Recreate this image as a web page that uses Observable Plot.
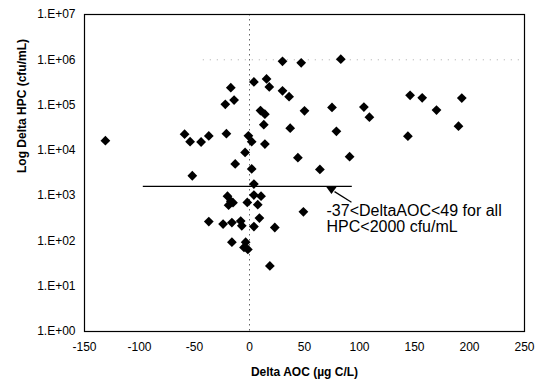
<!DOCTYPE html>
<html>
<head>
<meta charset="utf-8">
<script src="https://cdn.jsdelivr.net/npm/d3@7"></script>
<script src="https://cdn.jsdelivr.net/npm/@observablehq/plot@0.6"></script>
<style>
  html, body { margin: 0; padding: 0; background: #fff; }
  #chart { width: 541px; height: 381px; }
</style>
</head>
<body>
<div id="chart"></div>
<script>
// Data
const deltaAOC = [-131, -59, -54, -44, -37, -52, -22, -17, -14, -21, -13, -4, -1, 2, 2, 4, 15.5, 18, 10, 14,
  13, 14, 30, 47, 30, 36, 50, 37, 44, 83, 75, 104, 109, 146, 157, 170, 193, 79, 144, 190,
  91, 64, 4, -20, -17, -19, -15, -2, 4, 10.5, 7.5, 49, -37, -24, -16, -8, -7, 9, 4, 23,
  -16, -3.5, -5, -1.5, 18.5];
const deltaHPC = [16400, 22700, 15500, 15300, 20800, 2750, 104000, 242000, 129000, 23300, 5000, 9000, 21000, 15500, 3900, 325000, 378000, 251000, 75500, 63000,
  36800, 13800, 926000, 858000, 207000, 153000, 74700, 30800, 6900, 1030000, 88900, 90300, 54100, 164000, 145000, 77400, 143000, 26400, 20500, 34200,
  7240, 3780, 1800, 975, 755, 615, 700, 710, 1030, 975, 630, 440, 268, 235, 254, 274, 215, 319, 207, 198,
  94, 94, 72, 65, 28];

const xTicks = [-150, -100, -50, 0, 50, 100, 150, 200, 250];
const yTicks = [1, 10, 100, 1000, 10000, 100000, 1000000, 10000000];

// Annotation (threshold line, arrow, note)
const thresholdX = [-97, 93];
const thresholdY = [1600, 1600];
const arrowX = [77.3, 92.7];
const arrowY = [1227, 718];
const arrowHeadX = [74.5];
const arrowHeadY = [1330];
const noteX = [70];
const noteY = [650];
const noteText = ["-37<DeltaAOC<49 for all\nHPC<2000 cfu/mL"];
const gridY = [1000000];
const gridYFrom = [-42];
const gridYTo = [250];

const points = deltaAOC.map((x, i) => ({x, y: deltaHPC[i]}));

const diamond = {
  draw(context, size) {
    const r = Math.sqrt(size) * 0.62625;
    context.moveTo(0, -r);
    context.lineTo(r, 0);
    context.lineTo(0, r);
    context.lineTo(-r, 0);
    context.closePath();
  }
};
const headTri = {
  draw(context) {
    context.moveTo(-5.5, -3.5);
    context.lineTo(5.5, -3.5);
    context.lineTo(0, 4);
    context.closePath();
  }
};

const fmt = d => "1.E+" + String(Math.round(Math.log10(d))).padStart(2, "0");

const chart = Plot.plot({
  width: 541,
  height: 381,
  marginLeft: 84,
  marginRight: 17,
  marginTop: 14,
  marginBottom: 50,
  style: {fontFamily: "'Liberation Sans', Arial, sans-serif", fontSize: "12px", color: "#000", background: "#fff"},
  x: {domain: [-150, 250], label: null},
  y: {type: "log", domain: [1, 1e7], label: null},
  marks: [
    Plot.ruleX([0], {stroke: "#666", strokeDasharray: "1.5,3.5", strokeWidth: 1}),
    Plot.ruleY(gridY, {y: d => d, x1: gridYFrom[0], x2: gridYTo[0], stroke: "#aaa", strokeDasharray: "1,6", strokeWidth: 1}),
    Plot.axisX({ticks: xTicks, tickSize: 0, tickPadding: 11, tickFormat: d => String(d), fontSize: 12}),
    Plot.axisY({ticks: yTicks, tickSize: 0, tickPadding: 9, tickFormat: fmt, fontSize: 12}),
    Plot.text(["Delta AOC (µg C/L)"], {frameAnchor: "bottom", dy: 41, fontWeight: "bold", fontSize: 12, lineAnchor: "middle"}),
    Plot.text(["Log Delta HPC (cfu/mL)"], {frameAnchor: "left", dx: -62, rotate: -90, fontWeight: "bold", fontSize: 12, lineAnchor: "middle"}),
    Plot.link([0], {x1: () => thresholdX[0], x2: () => thresholdX[1], y1: () => thresholdY[0], y2: () => thresholdY[1], stroke: "#000", strokeWidth: 1.4}),
    Plot.dot(points, {x: "x", y: "y", symbol: diamond, r: 4.4, fill: "#000", stroke: "none"}),
    Plot.link([0], {x1: () => arrowX[0], x2: () => arrowX[1], y1: () => arrowY[0], y2: () => arrowY[1], stroke: "#000", strokeWidth: 1.2}),
    Plot.dot([0], {x: () => arrowHeadX[0], y: () => arrowHeadY[0], symbol: headTri, fill: "#000", stroke: "none"}),
    Plot.text(noteText, {x: () => noteX[0], y: () => noteY[0], text: d => d, textAnchor: "start", lineAnchor: "top", fontSize: 16, lineHeight: 1.02}),
    Plot.frame({stroke: "#000", strokeWidth: 1.2})
  ]
});
document.getElementById("chart").appendChild(chart);
</script>
</body>
</html>
